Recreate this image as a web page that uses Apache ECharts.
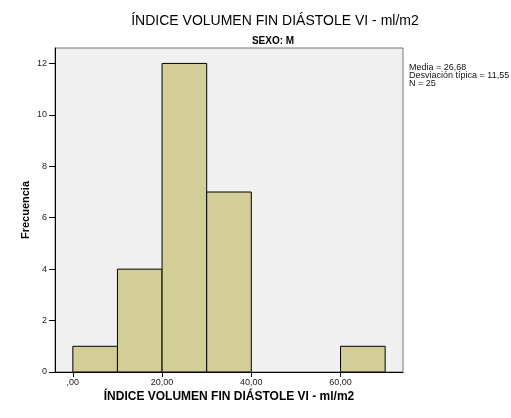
<!DOCTYPE html>
<html>
<head>
<meta charset="utf-8">
<script src="https://cdn.jsdelivr.net/npm/echarts@6/dist/echarts.min.js"></script>
<style>
  html, body { margin: 0; padding: 0; background: #fff; }
  #chart { width: 511px; height: 418px; }
</style>
</head>
<body>
<div id="chart"></div>
<script>
// Histogram bins: [lower edge, upper edge] and counts
const binStarts = [0, 10, 20, 30, 60];
const binEnds = [10, 20, 30, 40, 70];
const counts = [1, 4, 12, 7, 1];

const xTickValues = [0, 20, 40, 60];
const xTickLabels = [',00', '20,00', '40,00', '60,00'];
const yTickValues = [0, 2, 4, 6, 8, 10, 12];

const statsLines = ['Media = 26,68', 'Desviación típica = 11,55', 'N = 25'];

const chart = echarts.init(document.getElementById('chart'), null, { renderer: 'canvas' });

const data = binStarts.map((s, i) => [s, binEnds[i], counts[i]]);

const font = 'Arial, "Liberation Sans", sans-serif';

chart.setOption({
  animation: false,
  backgroundColor: '#ffffff',
  title: [
    {
      text: 'ÍNDICE VOLUMEN FIN DIÁSTOLE VI - ml/m2',
      left: 270, top: 9, textAlign: 'center',
      textStyle: { fontFamily: font, fontSize: 14, fontWeight: 'normal', color: '#000' }
    },
    {
      text: 'SEXO: M',
      left: 268, top: 31, textAlign: 'center',
      textStyle: { fontFamily: font, fontSize: 10, fontWeight: 'bold', color: '#000' }
    }
  ],
  graphic: [
    {
      type: 'text', left: 409, top: 63,
      style: {
        text: statsLines.join('\n'),
        font: '9px ' + font,
        lineHeight: 8,
        fill: '#111'
      }
    }
  ],
  grid: {
    left: 55, top: 48, right: 108, bottom: 46,
    show: true, backgroundColor: '#f0f0f0', borderColor: '#777', borderWidth: 1
  },
  xAxis: {
    type: 'value', min: -4, max: 74,
    name: 'ÍNDICE VOLUMEN FIN DIÁSTOLE VI - ml/m2',
    nameLocation: 'middle', nameGap: 19, nameMoveOverlap: false,
    nameTextStyle: { fontFamily: font, fontSize: 12, fontWeight: 'bold', color: '#000' },
    axisLine: { onZero: false, lineStyle: { color: '#000', width: 1 } },
    axisTick: { show: true, length: 5, customValues: xTickValues, lineStyle: { color: '#000' } },
    axisLabel: {
      customValues: xTickValues,
      fontFamily: font, fontSize: 9, color: '#222', margin: 6,
      formatter: v => xTickLabels[xTickValues.indexOf(v)]
    },
    splitLine: { show: false }
  },
  yAxis: {
    type: 'value', min: 0, max: 12.6,
    name: 'Frecuencia',
    nameLocation: 'middle', nameGap: 24, nameMoveOverlap: false,
    nameTextStyle: { fontFamily: font, fontSize: 11, fontWeight: 'bold', color: '#000' },
    axisLine: { show: true, onZero: false, lineStyle: { color: '#000', width: 1 } },
    axisTick: { show: true, length: 6, customValues: yTickValues, lineStyle: { color: '#000' } },
    axisLabel: { customValues: yTickValues, fontFamily: font, fontSize: 9, color: '#222', margin: 8 },
    splitLine: { show: false }
  },
  series: [{
    type: 'custom',
    data: data,
    encode: { x: [0, 1], y: 2 },
    renderItem: function (params, api) {
      const p0 = api.coord([api.value(0), 0]);
      const p1 = api.coord([api.value(1), api.value(2)]);
      return {
        type: 'rect',
        shape: { x: p0[0], y: p1[1], width: p1[0] - p0[0], height: p0[1] - p1[1] },
        style: { fill: '#d3ce97', stroke: '#000', lineWidth: 1 }
      };
    }
  }]
});
</script>
</body>
</html>
